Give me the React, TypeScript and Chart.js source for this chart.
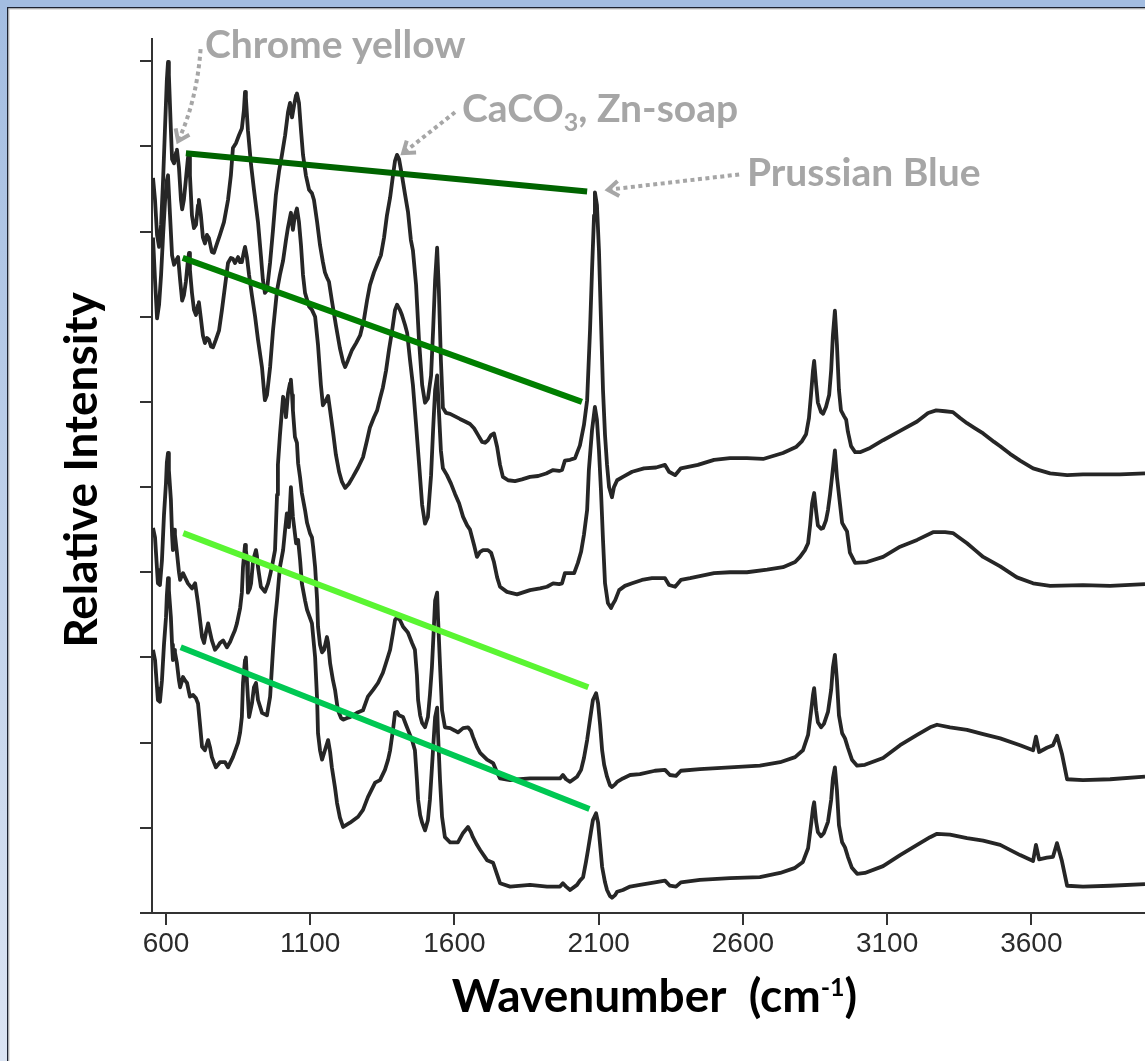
import React, { useEffect, useRef } from 'react';
import { Chart, registerables } from 'chart.js';

Chart.register(...registerables);

// ---------- axes ----------
const X_MIN = 551.5;
const X_MAX = 3994;
const Y_MIN = 0;
const Y_MAX = 10.26;
const xTickValues = [600, 1100, 1600, 2100, 2600, 3100, 3600];
const yTickValues = [1, 2, 3, 4, 5, 6, 7, 8, 9, 10];

// ---------- spectra: [wavenumber cm-1, relative intensity] ----------
const spectrum1 = [
  [555, 8.63], [562, 8.37], [569, 7.96], [576, 7.82], [583, 8.08], [590, 8.61], [597, 9.25], [603, 9.78], [607, 9.99], [610, 9.84],
  [617, 9.19], [621, 8.85], [628, 8.8], [635, 8.93], [638, 8.96], [645, 8.75], [652, 8.37], [656, 8.26], [662, 8.37], [669, 8.61],
  [676, 8.86], [680, 8.92], [683, 8.66], [690, 8.19], [697, 8.04], [704, 8.08], [711, 8.31], [714, 8.37], [721, 8.19], [728, 7.93],
  [735, 7.86], [742, 7.96], [749, 7.92], [759, 7.76], [766, 7.75], [777, 7.86], [787, 7.96], [801, 8.11], [815, 8.37], [825, 8.66],
  [832, 8.98], [843, 9.04], [853, 9.13], [863, 9.21], [870, 9.42], [874, 9.64], [877, 9.57], [884, 9.19], [895, 8.78], [905, 8.49],
  [919, 8.11], [929, 7.72], [936, 7.43], [943, 7.28], [950, 7.31], [961, 7.64], [971, 8.02], [981, 8.43], [992, 8.71], [1002, 8.9],
  [1013, 9.13], [1023, 9.4], [1030, 9.51], [1037, 9.34], [1044, 9.48], [1051, 9.6], [1054, 9.62], [1061, 9.51], [1068, 9.19], [1075, 8.9],
  [1085, 8.66], [1096, 8.49], [1106, 8.45], [1113, 8.37], [1124, 8.11], [1134, 7.84], [1144, 7.64], [1151, 7.52], [1158, 7.46], [1165, 7.41],
  [1175, 7.19], [1189, 6.9], [1203, 6.63], [1214, 6.47], [1221, 6.41], [1231, 6.49], [1245, 6.61], [1259, 6.69], [1273, 6.78], [1286, 6.96],
  [1297, 7.19], [1307, 7.37], [1321, 7.52], [1335, 7.64], [1345, 7.72], [1356, 7.93], [1366, 8.19], [1377, 8.4], [1387, 8.66], [1394, 8.83],
  [1401, 8.9], [1408, 8.85], [1418, 8.66], [1429, 8.43], [1439, 8.23], [1449, 7.9], [1456, 7.78], [1467, 7.37], [1477, 6.73], [1488, 6.2],
  [1498, 5.99], [1508, 6.04], [1519, 6.31], [1526, 6.84], [1533, 7.43], [1540, 7.81], [1546, 7.31], [1553, 6.49], [1560, 5.93], [1571, 5.87],
  [1585, 5.86], [1602, 5.83], [1619, 5.8], [1637, 5.77], [1654, 5.74], [1668, 5.69], [1682, 5.61], [1696, 5.53], [1706, 5.52], [1716, 5.55],
  [1727, 5.61], [1737, 5.63], [1748, 5.47], [1758, 5.26], [1768, 5.12], [1786, 5.08], [1810, 5.07], [1834, 5.09], [1862, 5.12], [1890, 5.13],
  [1918, 5.16], [1942, 5.2], [1963, 5.19], [1973, 5.2], [1983, 5.31], [2001, 5.32], [2018, 5.34], [2035, 5.49], [2049, 5.73], [2060, 6.02],
  [2070, 6.84], [2077, 7.55], [2084, 8.19], [2087, 8.46], [2094, 8.31], [2101, 7.78], [2108, 6.96], [2115, 6.14], [2122, 5.61], [2129, 5.26],
  [2136, 5.0], [2146, 4.88], [2153, 5.0], [2164, 5.08], [2184, 5.12], [2216, 5.18], [2257, 5.22], [2299, 5.23], [2330, 5.26], [2344, 5.18],
  [2365, 5.14], [2385, 5.22], [2444, 5.26], [2500, 5.32], [2555, 5.34], [2614, 5.34], [2670, 5.33], [2739, 5.4], [2784, 5.47], [2805, 5.54],
  [2819, 5.62], [2829, 5.81], [2836, 6.08], [2843, 6.37], [2847, 6.48], [2854, 6.2], [2860, 5.99], [2871, 5.88], [2878, 5.86], [2888, 5.94],
  [2899, 6.08], [2906, 6.37], [2912, 6.78], [2919, 7.07], [2926, 6.67], [2933, 6.14], [2940, 5.9], [2951, 5.83], [2958, 5.79], [2964, 5.65],
  [2975, 5.48], [2989, 5.41], [3006, 5.41], [3041, 5.46], [3086, 5.55], [3145, 5.66], [3204, 5.77], [3242, 5.87], [3270, 5.9], [3301, 5.89],
  [3328, 5.88], [3353, 5.81], [3377, 5.75], [3405, 5.69], [3433, 5.63], [3471, 5.53], [3492, 5.48], [3526, 5.39], [3561, 5.31], [3606, 5.22],
  [3665, 5.16], [3724, 5.14], [3779, 5.15], [3838, 5.15], [3907, 5.15], [3994, 5.16],
];

const spectrum2 = [
  [555, 7.93], [562, 7.43], [569, 6.98], [576, 7.14], [583, 7.49], [590, 7.96], [597, 8.37], [603, 8.6], [607, 8.66], [614, 8.19],
  [621, 7.72], [628, 7.61], [635, 7.66], [642, 7.7], [649, 7.43], [656, 7.19], [662, 7.25], [669, 7.41], [676, 7.66], [680, 7.75],
  [683, 7.55], [690, 7.28], [697, 7.08], [704, 7.02], [711, 7.14], [714, 7.17], [721, 6.98], [728, 6.78], [735, 6.69], [742, 6.75],
  [749, 6.73], [756, 6.65], [763, 6.64], [773, 6.73], [784, 6.84], [794, 7.08], [805, 7.37], [815, 7.63], [825, 7.69], [832, 7.68],
  [839, 7.63], [850, 7.7], [857, 7.64], [863, 7.64], [870, 7.76], [874, 7.82], [881, 7.69], [888, 7.49], [898, 7.25], [909, 7.0],
  [919, 6.73], [933, 6.4], [940, 6.12], [943, 6.02], [950, 6.08], [961, 6.41], [971, 6.84], [985, 7.31], [995, 7.49], [1006, 7.66],
  [1016, 7.9], [1023, 8.05], [1033, 8.22], [1040, 8.02], [1047, 8.19], [1054, 8.27], [1061, 8.11], [1068, 7.84], [1075, 7.49], [1082, 7.28],
  [1096, 7.12], [1106, 7.08], [1117, 7.0], [1127, 6.67], [1137, 6.2], [1144, 5.96], [1155, 6.02], [1162, 6.07], [1169, 5.9], [1179, 5.65],
  [1189, 5.38], [1200, 5.18], [1210, 5.06], [1221, 4.99], [1234, 5.04], [1248, 5.12], [1266, 5.23], [1283, 5.35], [1297, 5.55], [1307, 5.7],
  [1321, 5.82], [1332, 5.9], [1342, 6.04], [1352, 6.17], [1363, 6.37], [1373, 6.61], [1384, 6.84], [1394, 7.08], [1401, 7.14], [1411, 7.08],
  [1418, 7.02], [1429, 6.9], [1436, 6.81], [1446, 6.49], [1456, 6.2], [1467, 5.73], [1477, 5.29], [1488, 4.79], [1498, 4.57], [1508, 4.65],
  [1519, 5.14], [1526, 5.67], [1533, 6.14], [1540, 6.31], [1546, 5.9], [1553, 5.43], [1560, 5.22], [1574, 5.14], [1588, 5.04], [1602, 4.92],
  [1616, 4.81], [1630, 4.65], [1644, 4.55], [1654, 4.5], [1668, 4.32], [1678, 4.18], [1689, 4.24], [1699, 4.26], [1716, 4.26], [1727, 4.23],
  [1737, 4.12], [1748, 3.94], [1758, 3.83], [1782, 3.77], [1817, 3.74], [1862, 3.79], [1897, 3.81], [1921, 3.83], [1942, 3.87], [1963, 3.86],
  [1973, 3.87], [1983, 3.99], [2001, 3.99], [2015, 3.99], [2028, 4.11], [2039, 4.24], [2049, 4.44], [2060, 4.73], [2066, 5.2], [2077, 5.67],
  [2087, 5.94], [2094, 5.79], [2101, 5.43], [2108, 4.96], [2115, 4.38], [2122, 3.87], [2132, 3.64], [2143, 3.58], [2150, 3.63], [2157, 3.67],
  [2171, 3.79], [2191, 3.84], [2216, 3.87], [2250, 3.91], [2285, 3.93], [2330, 3.93], [2344, 3.85], [2365, 3.83], [2385, 3.91], [2417, 3.93],
  [2500, 3.99], [2555, 4.0], [2614, 4.0], [2684, 4.03], [2739, 4.06], [2781, 4.12], [2798, 4.18], [2815, 4.26], [2826, 4.34], [2833, 4.55],
  [2840, 4.81], [2847, 4.93], [2854, 4.71], [2860, 4.55], [2871, 4.51], [2878, 4.52], [2888, 4.61], [2895, 4.73], [2902, 4.91], [2909, 5.12],
  [2919, 5.43], [2926, 5.12], [2937, 4.79], [2944, 4.58], [2954, 4.52], [2961, 4.48], [2971, 4.23], [2989, 4.11], [3030, 4.12], [3086, 4.18],
  [3145, 4.3], [3204, 4.38], [3259, 4.47], [3301, 4.47], [3328, 4.46], [3353, 4.4], [3377, 4.34], [3405, 4.26], [3433, 4.18], [3492, 4.07],
  [3550, 3.94], [3606, 3.87], [3665, 3.84], [3779, 3.85], [3873, 3.84], [3994, 3.86],
];

const spectrum3 = [
  [555, 4.52], [562, 4.41], [569, 4.03], [572, 3.87], [579, 3.85], [586, 4.14], [593, 4.67], [600, 5.05], [603, 5.29], [607, 5.4],
  [610, 5.2], [617, 4.85], [621, 4.44], [624, 4.26], [628, 4.5], [631, 4.44], [638, 4.23], [645, 4.0], [649, 3.91], [656, 3.97],
  [659, 3.99], [666, 3.94], [676, 3.87], [690, 3.81], [701, 3.87], [711, 3.64], [718, 3.44], [725, 3.24], [732, 3.17], [739, 3.3],
  [746, 3.4], [753, 3.29], [759, 3.2], [770, 3.09], [780, 3.13], [787, 3.17], [798, 3.2], [811, 3.12], [822, 3.18], [829, 3.24],
  [839, 3.32], [846, 3.4], [857, 3.58], [863, 3.76], [867, 4.06], [874, 4.32], [877, 4.26], [881, 4.14], [884, 3.76], [891, 3.81],
  [895, 3.87], [902, 4.14], [912, 4.26], [915, 4.2], [919, 4.06], [929, 3.83], [943, 3.77], [954, 3.87], [961, 3.97], [967, 4.06],
  [978, 4.26], [985, 4.91], [988, 5.26], [995, 5.61], [1002, 5.9], [1006, 6.06], [1013, 5.96], [1016, 5.82], [1023, 6.1], [1030, 6.22],
  [1033, 6.26], [1037, 6.08], [1040, 5.9], [1047, 5.59], [1054, 5.52], [1058, 5.28], [1065, 5.11], [1071, 4.93], [1082, 4.73], [1089, 4.58],
  [1099, 4.46], [1106, 4.41], [1110, 4.3], [1117, 4.06], [1124, 3.67], [1127, 3.36], [1134, 3.15], [1141, 3.06], [1148, 3.09], [1158, 3.24],
  [1162, 3.17], [1169, 2.93], [1179, 2.73], [1186, 2.62], [1196, 2.38], [1207, 2.29], [1214, 2.27], [1228, 2.29], [1238, 2.3], [1262, 2.35],
  [1283, 2.38], [1300, 2.54], [1318, 2.62], [1335, 2.7], [1352, 2.82], [1366, 2.97], [1377, 3.09], [1387, 3.29], [1394, 3.44], [1401, 3.47],
  [1411, 3.44], [1422, 3.36], [1432, 3.32], [1439, 3.29], [1453, 3.17], [1463, 3.09], [1470, 2.79], [1474, 2.5], [1481, 2.32], [1488, 2.23],
  [1498, 2.18], [1508, 2.3], [1515, 2.56], [1522, 2.89], [1529, 3.38], [1533, 3.67], [1540, 3.76], [1543, 3.47], [1550, 2.91], [1557, 2.38],
  [1567, 2.18], [1585, 2.17], [1602, 2.14], [1612, 2.12], [1630, 2.17], [1647, 2.18], [1657, 2.14], [1664, 2.07], [1678, 1.95], [1689, 1.88],
  [1713, 1.8], [1734, 1.76], [1748, 1.65], [1758, 1.58], [1793, 1.56], [1827, 1.57], [1862, 1.58], [1921, 1.58], [1966, 1.58], [1976, 1.62],
  [1987, 1.57], [2001, 1.54], [2025, 1.6], [2039, 1.68], [2049, 1.82], [2060, 2.03], [2070, 2.27], [2080, 2.5], [2091, 2.58], [2098, 2.46],
  [2105, 2.21], [2112, 1.91], [2119, 1.74], [2129, 1.6], [2139, 1.5], [2146, 1.48], [2157, 1.51], [2164, 1.54], [2184, 1.58], [2209, 1.62],
  [2243, 1.63], [2295, 1.67], [2330, 1.68], [2347, 1.62], [2368, 1.61], [2385, 1.67], [2451, 1.69], [2555, 1.71], [2659, 1.73], [2729, 1.77],
  [2781, 1.83], [2808, 1.91], [2826, 2.09], [2836, 2.36], [2843, 2.56], [2847, 2.64], [2854, 2.38], [2860, 2.24], [2871, 2.18], [2881, 2.22],
  [2895, 2.36], [2906, 2.62], [2912, 2.88], [2919, 3.03], [2926, 2.73], [2933, 2.32], [2944, 2.11], [2954, 2.05], [2964, 1.94], [2978, 1.8],
  [2996, 1.73], [3023, 1.74], [3086, 1.82], [3145, 1.97], [3204, 2.09], [3249, 2.18], [3273, 2.21], [3318, 2.18], [3377, 2.15], [3433, 2.1],
  [3492, 2.05], [3561, 1.97], [3606, 1.91], [3616, 2.07], [3627, 1.89], [3654, 1.94], [3675, 1.97], [3689, 2.08], [3706, 1.87], [3724, 1.57],
  [3779, 1.56], [3873, 1.57], [3994, 1.6],
];

const spectrum4 = [
  [555, 3.09], [562, 2.97], [569, 2.64], [572, 2.5], [579, 2.48], [586, 2.73], [593, 3.15], [600, 3.47], [603, 3.73], [607, 3.93],
  [610, 3.79], [617, 3.47], [621, 3.15], [624, 2.97], [628, 3.09], [631, 3.06], [638, 2.93], [645, 2.73], [649, 2.65], [656, 2.73],
  [659, 2.77], [666, 2.73], [673, 2.7], [683, 2.54], [694, 2.56], [704, 2.52], [711, 2.46], [718, 2.21], [725, 1.95], [735, 1.91],
  [746, 2.03], [753, 1.94], [759, 1.83], [773, 1.71], [787, 1.77], [805, 1.77], [815, 1.71], [832, 1.83], [850, 2.0], [857, 2.12],
  [863, 2.3], [867, 2.7], [874, 2.97], [877, 3.0], [881, 2.7], [888, 2.3], [898, 2.46], [905, 2.65], [912, 2.7], [919, 2.5],
  [933, 2.35], [950, 2.32], [961, 2.54], [971, 3.09], [978, 3.44], [985, 3.67], [995, 4.06], [1006, 4.26], [1013, 4.5], [1019, 4.69],
  [1026, 4.53], [1033, 5.0], [1040, 4.65], [1051, 4.34], [1058, 4.38], [1065, 4.14], [1071, 3.87], [1082, 3.67], [1089, 3.56], [1106, 3.4],
  [1117, 3.0], [1124, 2.5], [1127, 2.11], [1134, 1.91], [1141, 1.8], [1151, 1.91], [1162, 2.03], [1169, 1.89], [1175, 1.71], [1186, 1.47],
  [1193, 1.29], [1203, 1.12], [1214, 1.01], [1238, 1.06], [1266, 1.13], [1283, 1.21], [1300, 1.36], [1325, 1.53], [1342, 1.56], [1359, 1.68],
  [1370, 1.8], [1377, 1.91], [1387, 2.15], [1394, 2.35], [1401, 2.36], [1408, 2.32], [1422, 2.3], [1432, 2.21], [1439, 2.15], [1453, 2.03],
  [1463, 1.91], [1470, 1.56], [1474, 1.33], [1481, 1.15], [1488, 1.06], [1498, 0.97], [1508, 1.09], [1515, 1.33], [1522, 1.71], [1529, 2.09],
  [1533, 2.3], [1540, 2.41], [1543, 2.11], [1550, 1.56], [1557, 1.13], [1567, 0.89], [1585, 0.83], [1612, 0.83], [1630, 0.94], [1647, 1.01],
  [1657, 0.95], [1664, 0.89], [1678, 0.8], [1689, 0.74], [1713, 0.62], [1734, 0.59], [1748, 0.45], [1758, 0.35], [1793, 0.31], [1862, 0.33],
  [1921, 0.31], [1966, 0.31], [1976, 0.35], [1987, 0.31], [2001, 0.27], [2025, 0.33], [2035, 0.38], [2046, 0.42], [2056, 0.6], [2063, 0.74],
  [2073, 0.95], [2080, 1.09], [2091, 1.17], [2098, 1.06], [2105, 0.8], [2112, 0.54], [2122, 0.36], [2129, 0.27], [2139, 0.2], [2146, 0.18],
  [2157, 0.21], [2164, 0.25], [2184, 0.27], [2209, 0.31], [2243, 0.33], [2295, 0.36], [2330, 0.38], [2347, 0.32], [2368, 0.31], [2385, 0.36],
  [2451, 0.39], [2555, 0.41], [2659, 0.42], [2729, 0.47], [2781, 0.53], [2808, 0.6], [2826, 0.76], [2836, 1.03], [2843, 1.23], [2847, 1.3],
  [2854, 1.07], [2860, 0.95], [2871, 0.9], [2881, 0.94], [2895, 1.07], [2906, 1.33], [2912, 1.58], [2919, 1.71], [2926, 1.44], [2933, 1.03],
  [2944, 0.83], [2954, 0.77], [2964, 0.66], [2978, 0.53], [2996, 0.46], [3023, 0.47], [3086, 0.55], [3145, 0.68], [3204, 0.8], [3249, 0.89],
  [3273, 0.93], [3318, 0.92], [3377, 0.88], [3433, 0.85], [3492, 0.8], [3561, 0.68], [3606, 0.61], [3616, 0.8], [3627, 0.63], [3654, 0.65],
  [3675, 0.66], [3689, 0.82], [3706, 0.61], [3724, 0.32], [3779, 0.31], [3873, 0.32], [3994, 0.34],
];

// ---------- guide lines drawn over the spectra ----------
const guide1 = [[669, 8.92], [2060, 8.47]];
const guide2 = [[658, 7.69], [2042, 6.0]];
const guide3 = [[660, 4.46], [2064, 2.65]];
const guide4 = [[651, 3.12], [2068, 1.22]];

// ---------- annotation texts and anchors (data coordinates) ----------
const chromeText = 'Chrome yellow';
const chromeAnchor = [735, 10.04];
const chromeArrow = [[720, 10.14], [707, 9.54], [642, 9.06]];
const cacoParts = ['CaCO', '3', ', Zn-soap'];
const cacoAnchor = [1626, 9.28];
const cacoArrow = [[1602, 9.4], [1422, 8.92]];
const prussianText = 'Prussian Blue';
const prussianAnchor = [2614, 8.54];
const prussianArrow = [[2587, 8.67], [2132, 8.49]];
const xTitleParts = ['Wavenumber  (cm', '-1', ')'];
const yTitle = 'Relative Intensity';

const toXY = (arr) => arr.map(([x, y]) => ({ x, y }));

const ANN_GRAY = '#a6a6a6';
const TITLE_FONT = 'Lato, "Open Sans", sans-serif';

function drawArrowHead(ctx, tx, ty, fx, fy) {
  const ang = Math.atan2(ty - fy, tx - fx);
  const len = 13;
  const spread = 0.62;
  ctx.save();
  ctx.setLineDash([]);
  ctx.lineWidth = 4;
  ctx.lineCap = 'butt';
  ctx.lineJoin = 'miter';
  ctx.beginPath();
  ctx.moveTo(tx - len * Math.cos(ang - spread), ty - len * Math.sin(ang - spread));
  ctx.lineTo(tx, ty);
  ctx.lineTo(tx - len * Math.cos(ang + spread), ty - len * Math.sin(ang + spread));
  ctx.stroke();
  ctx.restore();
}

const framePlugin = {
  id: 'slideFrame',
  beforeDraw(chart) {
    const { ctx, width, height } = chart;
    ctx.save();
    ctx.fillStyle = '#ffffff';
    ctx.fillRect(0, 0, width, height);
    const g = ctx.createLinearGradient(0, 0, 0, height);
    g.addColorStop(0, '#a3bde1');
    g.addColorStop(1, '#dbe4f3');
    ctx.fillStyle = g;
    ctx.fillRect(0, 0, 7, height);
    ctx.fillStyle = '#a3bde1';
    ctx.fillRect(0, 0, width, 7);
    ctx.fillStyle = '#1d2331';
    ctx.fillRect(7, 7, 1.5, height - 7);
    ctx.fillRect(7, 7, width - 7, 1.5);
    ctx.fillStyle = '#c8c8c8';
    ctx.fillRect(8.5, 8.5, 1, height - 8.5);
    ctx.fillRect(8.5, 8.5, width - 8.5, 1);
    ctx.restore();
  },
};

const annotationPlugin = {
  id: 'annotations',
  afterDraw(chart) {
    const { ctx, chartArea } = chart;
    const xs = chart.scales.x;
    const ys = chart.scales.y;
    const px = (w) => xs.getPixelForValue(w);
    const py = (v) => ys.getPixelForValue(v);
    ctx.save();

    // x axis line extends a little to the left of the y axis
    ctx.strokeStyle = '#333333';
    ctx.lineWidth = 2;
    ctx.beginPath();
    ctx.moveTo(chartArea.left - 12, chartArea.bottom);
    ctx.lineTo(chartArea.left, chartArea.bottom);
    ctx.stroke();

    // gray annotation labels
    ctx.fillStyle = ANN_GRAY;
    ctx.textBaseline = 'alphabetic';
    ctx.textAlign = 'left';
    ctx.font = `bold 39px ${TITLE_FONT}`;
    ctx.fillText(chromeText, px(chromeAnchor[0]), py(chromeAnchor[1]));
    ctx.fillText(prussianText, px(prussianAnchor[0]), py(prussianAnchor[1]));

    let cx = px(cacoAnchor[0]);
    const cy = py(cacoAnchor[1]);
    ctx.font = `bold 39px ${TITLE_FONT}`;
    ctx.fillText(cacoParts[0], cx, cy);
    cx += ctx.measureText(cacoParts[0]).width;
    ctx.font = `bold 25px ${TITLE_FONT}`;
    ctx.fillText(cacoParts[1], cx, cy + 9);
    cx += ctx.measureText(cacoParts[1]).width;
    ctx.font = `bold 39px ${TITLE_FONT}`;
    ctx.fillText(cacoParts[2], cx, cy);

    // dotted arrows
    ctx.strokeStyle = ANN_GRAY;
    ctx.lineWidth = 4;
    ctx.setLineDash([4, 3.5]);
    ctx.lineCap = 'butt';
    const c0 = [px(chromeArrow[0][0]), py(chromeArrow[0][1])];
    const c1 = [px(chromeArrow[1][0]), py(chromeArrow[1][1])];
    const c2 = [px(chromeArrow[2][0]), py(chromeArrow[2][1])];
    ctx.beginPath();
    ctx.moveTo(c0[0], c0[1]);
    ctx.quadraticCurveTo(c1[0], c1[1], c2[0], c2[1]);
    ctx.stroke();
    drawArrowHead(ctx, c2[0], c2[1], c1[0], c1[1]);

    const a0 = [px(cacoArrow[0][0]), py(cacoArrow[0][1])];
    const a1 = [px(cacoArrow[1][0]), py(cacoArrow[1][1])];
    ctx.beginPath();
    ctx.moveTo(a0[0], a0[1]);
    ctx.lineTo(a1[0], a1[1]);
    ctx.stroke();
    drawArrowHead(ctx, a1[0], a1[1], a0[0], a0[1]);

    const p0 = [px(prussianArrow[0][0]), py(prussianArrow[0][1])];
    const p1 = [px(prussianArrow[1][0]), py(prussianArrow[1][1])];
    ctx.beginPath();
    ctx.moveTo(p0[0], p0[1]);
    ctx.lineTo(p1[0], p1[1]);
    ctx.stroke();
    drawArrowHead(ctx, p1[0], p1[1], p0[0], p0[1]);
    ctx.setLineDash([]);

    // axis titles
    ctx.fillStyle = '#000000';
    const mainFont = `bold 46px ${TITLE_FONT}`;
    const supFont = `bold 25px ${TITLE_FONT}`;
    ctx.font = mainFont;
    const w0 = ctx.measureText(xTitleParts[0]).width;
    const w2 = ctx.measureText(xTitleParts[2]).width;
    ctx.font = supFont;
    const w1 = ctx.measureText(xTitleParts[1]).width;
    const total = w0 + w1 + w2;
    const centerX = (chartArea.left + chartArea.right) / 2 + 6;
    const baseY = chartArea.bottom + 99;
    let tx = centerX - total / 2;
    ctx.font = mainFont;
    ctx.fillText(xTitleParts[0], tx, baseY);
    tx += w0;
    ctx.font = supFont;
    ctx.fillText(xTitleParts[1], tx, baseY - 16);
    tx += w1;
    ctx.font = mainFont;
    ctx.fillText(xTitleParts[2], tx, baseY);

    ctx.save();
    ctx.translate(chartArea.left - 55, (chartArea.top + chartArea.bottom) / 2 - 6);
    ctx.rotate(-Math.PI / 2);
    ctx.textAlign = 'center';
    ctx.font = mainFont;
    ctx.fillText(yTitle, 0, 0);
    ctx.restore();

    ctx.restore();
  },
};

export default function App() {
  const canvasRef = useRef(null);

  useEffect(() => {
    const canvas = canvasRef.current;
    if (!canvas) return;
    const lineDs = (data, color, width) => ({
      data: toXY(data),
      borderColor: color,
      borderWidth: width,
      pointRadius: 0,
      tension: 0,
      fill: false,
      borderJoinStyle: 'round',
      borderCapStyle: 'butt',
    });
    const axisColor = '#333333';
    const chart = new Chart(canvas, {
      type: 'line',
      data: {
        datasets: [
          lineDs(guide1, '#006400', 6),
          lineDs(guide2, '#007f00', 6),
          lineDs(guide3, '#5af532', 6),
          lineDs(guide4, '#00c853', 6),
          lineDs(spectrum1, '#262626', 3.8),
          lineDs(spectrum2, '#262626', 3.8),
          lineDs(spectrum3, '#262626', 3.8),
          lineDs(spectrum4, '#262626', 3.8),
        ],
      },
      options: {
        animation: false,
        responsive: false,
        maintainAspectRatio: false,
        devicePixelRatio: 1,
        events: [],
        parsing: true,
        layout: { padding: { top: 39, left: 0, right: 0, bottom: 0 } },
        plugins: {
          legend: { display: false },
          tooltip: { enabled: false },
          title: { display: false },
        },
        scales: {
          x: {
            type: 'linear',
            min: X_MIN,
            max: X_MAX,
            afterBuildTicks: (s) => {
              s.ticks = xTickValues.map((v) => ({ value: v }));
            },
            afterFit: (s) => {
              s.height = 148;
            },
            grid: { display: true, drawOnChartArea: false, drawTicks: true, tickLength: 12, color: axisColor, lineWidth: 2 },
            border: { display: true, color: axisColor, width: 2 },
            ticks: {
              color: '#2b2b2b',
              font: { family: '"Liberation Sans", Arial, sans-serif', size: 28 },
              padding: 2,
              maxRotation: 0,
              autoSkip: false,
              callback: (v) => String(v),
            },
          },
          y: {
            type: 'linear',
            min: Y_MIN,
            max: Y_MAX,
            afterBuildTicks: (s) => {
              s.ticks = yTickValues.map((v) => ({ value: v }));
            },
            afterFit: (s) => {
              s.width = 152;
            },
            grid: { display: true, drawOnChartArea: false, drawTicks: true, tickLength: 12, color: axisColor, lineWidth: 2 },
            border: { display: true, color: axisColor, width: 2 },
            ticks: { display: false },
          },
        },
      },
      plugins: [framePlugin, annotationPlugin],
    });
    return () => chart.destroy();
  }, []);

  return (
    <div style={{ position: 'absolute', left: 0, top: 0, width: 1145, height: 1061 }}>
      <canvas ref={canvasRef} width={1145} height={1061} style={{ width: 1145, height: 1061, display: 'block' }} />
    </div>
  );
}
